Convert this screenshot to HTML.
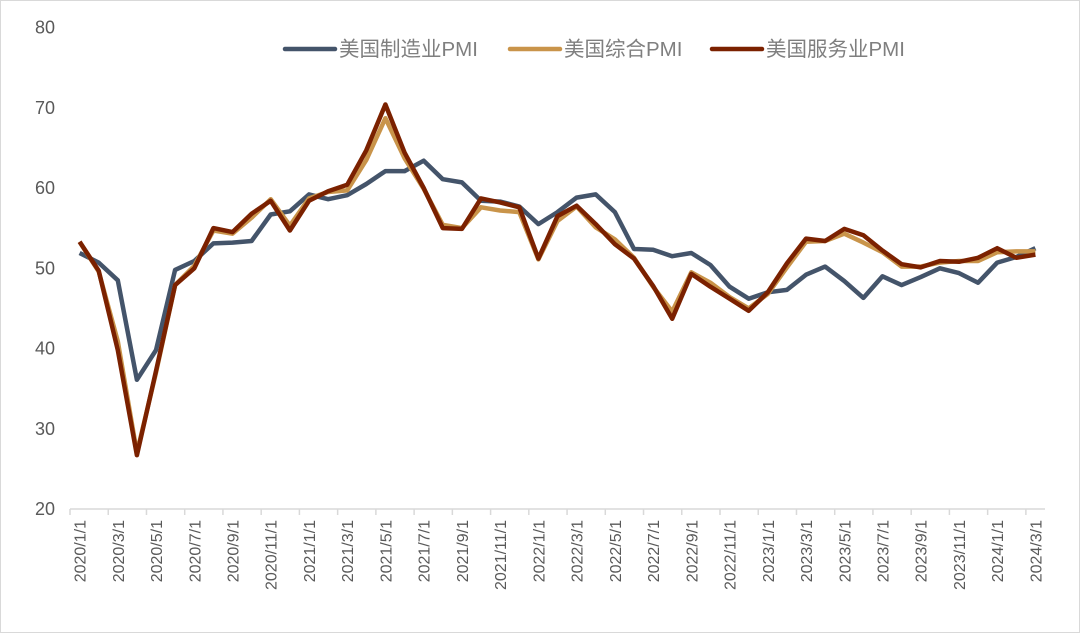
<!DOCTYPE html>
<html><head><meta charset="utf-8"><style>
html,body{margin:0;padding:0;background:#fff}
svg{display:block}
text{font-family:"Liberation Sans","Noto Sans CJK SC",sans-serif;fill:#595959}
</style></head><body>
<svg id="chart" width="1080" height="633">
<rect x="0.5" y="0.5" width="1079" height="632" fill="#fff" stroke="#d9d9d9"/>
<g id="yaxis"></g>
<g id="xaxis"></g>
<g id="series"></g>
<g id="legend"></g>
</svg>
<script>
const categories = [];
for (let y = 2020; y <= 2024; y++) for (let m = 1; m <= 12; m++) { if (y === 2024 && m > 3) break; categories.push(y + '/' + m + '/1'); }
const manufacturing = [51.9,50.7,48.5,36.1,39.8,49.8,50.9,53.1,53.2,53.4,56.7,57.1,59.2,58.6,59.1,60.5,62.1,62.1,63.4,61.1,60.7,58.4,58.3,57.7,55.5,57.0,58.8,59.2,57.0,52.4,52.3,51.5,51.9,50.4,47.7,46.2,47.0,47.3,49.2,50.2,48.4,46.3,49.0,47.9,48.9,50.0,49.4,48.2,50.7,51.4,52.5];
const composite = [53.3,49.6,40.9,27.0,37.0,47.9,50.3,54.7,54.3,56.3,58.6,55.3,58.7,59.5,59.7,63.5,68.7,63.7,59.9,55.4,55.0,57.6,57.2,57.0,51.1,55.9,57.7,55.1,53.6,51.3,47.7,44.6,49.5,48.2,46.4,45.0,46.8,50.1,53.3,53.4,54.3,53.2,52.0,50.2,50.2,50.7,50.9,50.9,52.0,52.1,52.1];
const services = [53.3,49.7,39.8,26.7,37.2,47.9,50.0,55.0,54.5,56.8,58.4,54.7,58.4,59.6,60.4,64.7,70.4,64.4,60.0,55.0,54.9,58.7,58.2,57.6,51.2,56.5,57.8,55.5,53.0,51.2,47.8,43.7,49.3,47.7,46.2,44.7,47.0,50.6,53.7,53.4,54.9,54.1,52.2,50.5,50.1,50.9,50.8,51.3,52.5,51.3,51.7];
const yTicks = [20,30,40,50,60,70,80];
const seriesNames = ['美国制造业PMI','美国综合PMI','美国服务业PMI'];

const NS = 'http://www.w3.org/2000/svg';
const X0 = 70, X1 = 1045, Y0 = 509, Y1 = 27.5;
const step = (X1 - X0) / categories.length;
const xs = i => X0 + step * (i + 0.5);
const ys = v => Y0 - (v - 20) / 60 * (Y0 - Y1);
function mk(tag, attrs, parent) { const e = document.createElementNS(NS, tag); for (const k in attrs) e.setAttribute(k, attrs[k]); parent.appendChild(e); return e; }

const yg = document.getElementById('yaxis');
yTicks.forEach(t => {
  const el = mk('text', {x: 55, y: ys(t) + 6, 'text-anchor': 'end', 'font-size': 18}, yg);
  el.textContent = t;
  
  
});

const xg = document.getElementById('xaxis');
const ax = mk('line', {x1: X0, y1: Y0, x2: X1, y2: Y0, stroke: '#d9d9d9', 'stroke-width': 1.5}, xg);


for (let i = 0; i <= categories.length; i += 2) {
  const tk = mk('line', {x1: X0 + step * i, y1: Y0, x2: X0 + step * i, y2: Y0 + 6, stroke: '#d9d9d9', 'stroke-width': 1.5}, xg);
  
  
}
categories.forEach((c, i) => {
  if (i % 2) return;
  const x = xs(i) + 6, y = 520;
  const el = mk('text', {x: x, y: y, 'text-anchor': 'end', 'font-size': 16, transform: `rotate(-90 ${x} ${y})`}, xg);
  el.textContent = c;
  
  
});

const sg = document.getElementById('series');
const defs = [[manufacturing, '#44546a', 'manufacturing-line'], [composite, '#c9944a', 'composite-line'], [services, '#7b2100', 'services-line']];
defs.forEach(([arr, col, name]) => {
  const p = mk('polyline', {points: arr.map((v, i) => xs(i).toFixed(1) + ',' + ys(v).toFixed(1)).join(' '), fill: 'none', stroke: col, 'stroke-width': 4.5, 'stroke-linejoin': 'round'}, sg);
  
  
});

const lg = document.getElementById('legend');
const lx = [285, 510, 712];
defs.forEach(([arr, col], k) => {
  const l = mk('line', {x1: lx[k], y1: 49, x2: lx[k] + 50, y2: 49, stroke: col, 'stroke-width': 4.5, 'stroke-linecap': 'round'}, lg);
  
  
  const t = mk('text', {x: lx[k] + 54, y: 56, 'font-size': 20.5, style: 'fill:#7f7f7f'}, lg);
  t.textContent = seriesNames[k];
  
  
});
</script>
</body></html>
